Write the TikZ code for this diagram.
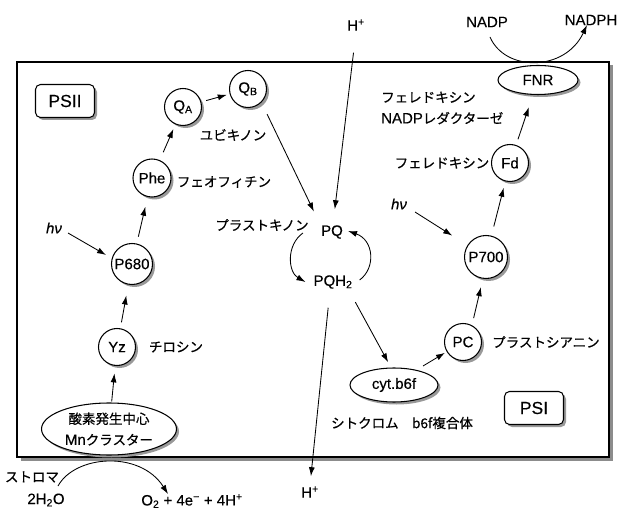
\documentclass[tikz,border=0pt]{standalone}
\usepackage{fontspec}
\setmainfont{Liberation Sans}[FakeBold=0.3]
\newfontfamily\jpfont{Noto Sans CJK JP}[FakeBold=0.5]
\usetikzlibrary{arrows.meta,shapes.geometric,shadows,calc}
\newcommand{\jp}[1]{{\jpfont\fontsize{13.5pt}{16pt}\selectfont #1}}
\begin{document}
\begin{tikzpicture}[x=1pt,y=-1pt,
  every node/.style={font=\fontsize{15pt}{18pt}\selectfont,inner sep=1pt},
  shad/.style={drop shadow={shadow xshift=2.5pt,shadow yshift=-2.5pt,fill=black!40,opacity=1}},
  cnode/.style={circle,draw,line width=1.05pt,fill=white,shad,minimum size=37pt,inner sep=0pt},
  enode/.style={ellipse,draw,line width=1.05pt,fill=white,shad,inner sep=0pt},
  rbox/.style={draw,rounded corners=5pt,line width=1.05pt,fill=white,shad,minimum width=59pt,minimum height=33pt,inner sep=0pt,font=\fontsize{17.5pt}{20pt}\selectfont},
  framebox/.style={draw,line width=1.2pt,fill=white,inner sep=0pt,drop shadow={shadow xshift=3.5pt,shadow yshift=-3.5pt,fill=black!45,opacity=1}},
  arr/.style={-{Latex[length=9pt,width=6pt]},line width=0.85pt},
]
\useasboundingbox (0,0) rectangle (618,510);
% frame
\node[framebox,minimum width=592pt,minimum height=395pt] (frame) at (313,259.5) {};

% PSII side
\node[rbox] (psii) at (65,101) {PSII};
\node[cnode] (QA) at (183,107) {Q\textsubscript{A}};
\node[cnode] (QB) at (248,89) {Q\textsubscript{B}};
\node[cnode,minimum size=38pt] (Phe) at (152,178) {Phe};
\node[cnode,minimum size=41pt] (P680) at (132,264) {P680};
\node[cnode] (Yz) at (117,347) {Yz};
\node[enode,minimum width=135pt,minimum height=52pt,align=center] (OEC) at (109,429) {\jp{酸素発生中心}\\[3pt]Mn\jp{クラスター}};
\node (ubi) at (233,135) {\jp{ユビキノン}};
\node (pheo) at (224,182) {\jp{フェオフィチン}};
\node (pqlbl) at (262,225) {\jp{プラストキノン}};
\node (tyr) at (176,347) {\jp{チロシン}};
\node (hvL) at (54,228) {\textit{hν}};

% PQ cycle
\node (PQ) at (332,232) {PQ};
\node (PQH2) at (333,282) {PQH\textsubscript{2}};
\node (Htop) at (356,25) {H\textsuperscript{+}};
\node (Hbot) at (310,492) {H\textsuperscript{+}};

% PSI side
\node[enode,minimum width=88pt,minimum height=34pt] (cyt) at (394,385) {cyt.b6f};
\node (cytlbl) at (402,423) {\jp{シトクロム　b6f複合体}};
\node[rbox] (psi) at (534,408) {PSI};
\node[cnode] (PC) at (463,342) {PC};
\node (pclbl) at (546,342) {\jp{プラストシアニン}};
\node[cnode,minimum size=43pt] (P700) at (486,257) {P700};
\node (hvR) at (399,204) {\textit{hν}};
\node[cnode] (Fd) at (510,163) {Fd};
\node (fdlbl) at (442,163) {\jp{フェレドキシン}};
\node[enode,minimum width=80pt,minimum height=29pt] (FNR) at (538,80) {FNR};
\node[anchor=west,align=left] (fnrlbl) at (380,108) {\jp{フェレドキシン}\\[3pt]NADP\jp{レダクターゼ}};
\node (NADP) at (487,22) {NADP};
\node (NADPH) at (591,20) {NADPH};

% stroma
\node (stroma) at (32,477) {\jp{ストロマ}};
\node (H2O) at (46,500) {2H\textsubscript{2}O};
\node (O2) at (192,501) {O\textsubscript{2} + 4e\textsuperscript{−} + 4H\textsuperscript{+}};

% connectors PSII
\draw[arr,shorten <=1pt,shorten >=7.5pt] (OEC) -- (Yz);
\draw[arr,shorten <=6pt,shorten >=11pt] (Yz) -- (P680);
\draw[arr,shorten <=7pt,shorten >=10pt] (P680) -- (Phe);
\draw[arr,shorten <=8.5pt,shorten >=5pt] (Phe) -- (QA);
\draw[arr,shorten <=5pt,shorten >=3pt] (QA) -- (QB);
\draw[arr,shorten >=30pt] ([shift={(14,5)}]hvL.center) -- ([shift={(0,6)}]P680.center);
\draw[arr,shorten <=13pt,shorten >=14pt] (QB.south east) -- (PQ.north west);
\draw[arr,shorten <=21pt,shorten >=15pt] (Htop.south) -- ([xshift=1pt]PQ.north);

% PQ cycle arcs
\draw[arr] ($(PQ.west)+(-17,1)$) .. controls (286,245) and (288,272) .. ($(PQH2.west)+(-7,0)$);
\draw[arr] ($(PQH2.east)+(6,-2)$) .. controls (376,268) and (374,240) .. ($(PQ.east)+(4,-1)$);
\draw[arr,shorten <=18pt,shorten >=9pt] ([xshift=-3pt]PQH2.south) -- (Hbot.north);
\draw[arr,shorten <=14pt,shorten >=6pt] ([xshift=-5pt]PQH2.south east) -- ([xshift=-3pt]cyt.north);

% connectors PSI
\draw[arr,shorten >=2pt] ([shift={(29,-19)}]cyt.center) -- (PC);
\draw[arr,shorten <=24.5pt,shorten >=31pt] ([xshift=5pt]PC.center) -- ([xshift=2pt]P700.center);
\draw[arr,shorten >=18pt] ([shift={(16,8)}]hvR.center) -- (P700);
\draw[arr,shorten <=9.5pt,shorten >=6.5pt] (P700) -- (Fd);
\draw[arr,shorten <=6pt,shorten >=13pt] (Fd) -- (FNR);
\draw[arr] ([shift={(3,15)}]NADP.center) .. controls (505,72) and (565,72) .. ([shift={(-4,5)}]NADPH.center);

% stroma arc
\draw[arr] ([shift={(12,-14)}]H2O.center) .. controls (75,455) and (140,450) .. ([shift={(-24,-7)}]O2.center);
\end{tikzpicture}
\end{document}
